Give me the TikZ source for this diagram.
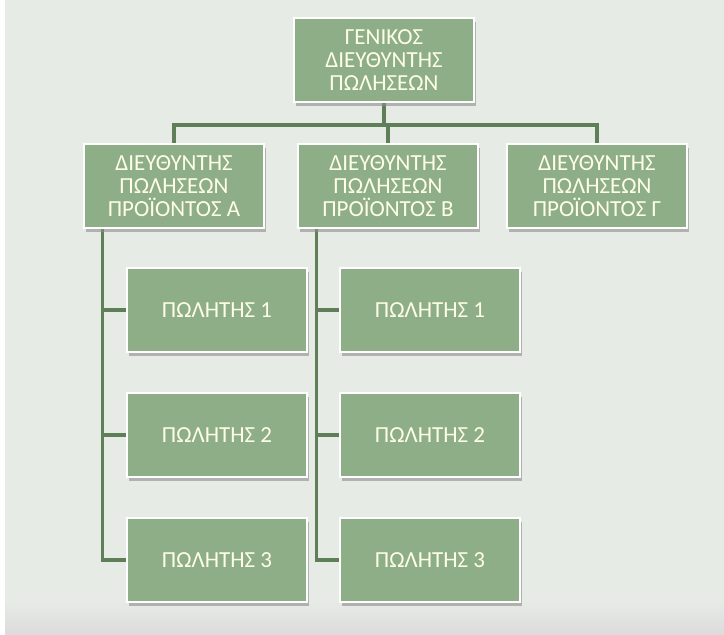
\documentclass[tikz,border=0pt]{standalone}
\usepackage{fontspec}
\setmainfont{Carlito}
\usetikzlibrary{shadows,backgrounds}
\definecolor{boxgreen}{HTML}{8DAE86}
\definecolor{linegreen}{HTML}{5F7F58}
\definecolor{backgray}{HTML}{E7EBE6}

\begin{document}
\begin{tikzpicture}[x=1pt, y=-1pt,
    box/.style={draw=white, line width=2.5pt, fill=boxgreen, text=white!90!yellow,
      minimum width=180pt, minimum height=84pt, align=center, inner sep=2pt,
      font=\fontsize{23}{23}\selectfont,
      drop shadow={shadow xshift=1.5pt, shadow yshift=-3.5pt, fill=black!45, opacity=.6}},
    conn/.style={draw=linegreen, line width=3.2pt}]
        \useasboundingbox (0,0) rectangle (724,635);

        \node[box] (gen) at (384,60) {ΓΕΝΙΚΟΣ\\ΔΙΕΥΘΥΝΤΗΣ\\ΠΩΛΗΣΕΩΝ};
        \node[box] (dA) at (174,186) {ΔΙΕΥΘΥΝΤΗΣ\\ΠΩΛΗΣΕΩΝ\\ΠΡΟΪΟΝΤΟΣ Α};
        \node[box] (dB) at (388,186) {ΔΙΕΥΘΥΝΤΗΣ\\ΠΩΛΗΣΕΩΝ\\ΠΡΟΪΟΝΤΟΣ Β};
        \node[box] (dG) at (597,186) {ΔΙΕΥΘΥΝΤΗΣ\\ΠΩΛΗΣΕΩΝ\\ΠΡΟΪΟΝΤΟΣ Γ};
        \node[box] (sA1) at (217,310) {ΠΩΛΗΤΗΣ 1};
        \node[box] (sA2) at (217,435) {ΠΩΛΗΤΗΣ 2};
        \node[box] (sA3) at (217,560) {ΠΩΛΗΤΗΣ 3};
        \node[box] (sB1) at (430,310) {ΠΩΛΗΤΗΣ 1};
        \node[box] (sB2) at (430,435) {ΠΩΛΗΤΗΣ 2};
        \node[box] (sB3) at (430,560) {ΠΩΛΗΤΗΣ 3};

        \begin{pgfonlayer}{background}
        \fill[white] (0,0) rectangle (724,635);
        \fill[backgray] (5,0) rectangle (724,635);
        \shade[top color=backgray, bottom color=black!14] (5,600) rectangle (724,635);
        % connectors
        \coordinate (bus) at (gen.south |- 0,125);
        \draw[conn] (gen.south) -- (bus);
        \draw[conn] (dA.north) -- (dA.north |- bus) -- (dG.north |- bus) -- (dG.north);
        \draw[conn] (dB.north |- bus) -- (dB.north);
        \coordinate (trunkA) at ([xshift=20pt]dA.south west);
        \coordinate (trunkB) at ([xshift=20pt]dB.south west);
        \draw[conn] (trunkA) |- (sA3.west);
        \draw[conn] (trunkA |- sA1.west) -- (sA1.west);
        \draw[conn] (trunkA |- sA2.west) -- (sA2.west);
        \draw[conn] (trunkB) |- (sB3.west);
        \draw[conn] (trunkB |- sB1.west) -- (sB1.west);
        \draw[conn] (trunkB |- sB2.west) -- (sB2.west);
        \end{pgfonlayer}
      \end{tikzpicture}
\end{document}
